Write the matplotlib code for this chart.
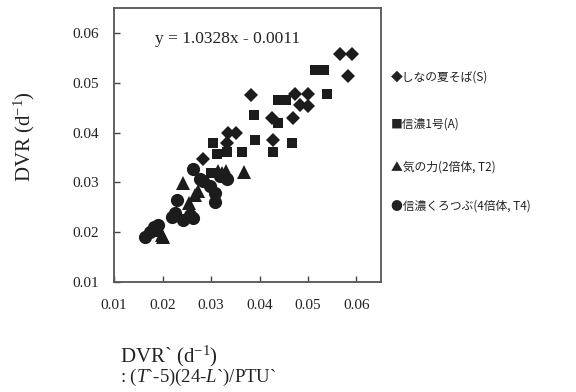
import matplotlib

matplotlib.use("Agg")
import matplotlib.pyplot as plt

plt.rcParams["font.family"] = "Liberation Serif"
plt.rcParams["mathtext.fontset"] = "custom"
plt.rcParams["mathtext.rm"] = "Liberation Serif"
plt.rcParams["mathtext.it"] = "Liberation Serif:italic"
plt.rcParams["mathtext.default"] = "regular"

# しなの夏そば(S)
s_x = [0.0566, 0.0591, 0.0582, 0.0382, 0.0473, 0.0500, 0.0484, 0.0500, 0.0426,
       0.0469, 0.0335, 0.0352, 0.0333, 0.0428, 0.0284]
s_y = [0.0558, 0.0558, 0.0513, 0.0475, 0.0477, 0.0477, 0.0455, 0.0453, 0.0429,
       0.0429, 0.0400, 0.0400, 0.0380, 0.0386, 0.0346]
# 信濃1号(A)
a_x = [0.0514, 0.0534, 0.0539, 0.0438, 0.0455, 0.0389, 0.0438, 0.0391, 0.0467,
       0.0304, 0.0312, 0.0333, 0.0364, 0.0428, 0.0300]
a_y = [0.0525, 0.0525, 0.0477, 0.0465, 0.0465, 0.0435, 0.0419, 0.0386, 0.0380,
       0.0380, 0.0356, 0.0360, 0.0360, 0.0360, 0.0318]
# 気の力(2倍体, T2)
t2_x = [0.0368, 0.0242, 0.0267, 0.0255, 0.0199, 0.0315, 0.0330, 0.0323, 0.0191,
        0.0201, 0.0273]
t2_y = [0.0320, 0.0298, 0.0275, 0.0259, 0.0195, 0.0322, 0.0322, 0.0318, 0.0205,
        0.0191, 0.0282]
# 信濃くろつぶ(4倍体, T4)
t4_x = [0.0263, 0.0284, 0.0298, 0.0308, 0.0308, 0.0230, 0.0226, 0.0242, 0.0263,
        0.0191, 0.0174, 0.0164, 0.0319, 0.0333, 0.0277, 0.0257, 0.0220, 0.0183]
t4_y = [0.0326, 0.0302, 0.0292, 0.0279, 0.0261, 0.0265, 0.0239, 0.0225, 0.0229,
        0.0215, 0.0201, 0.0191, 0.0312, 0.0306, 0.0306, 0.0235, 0.0231, 0.0210]

ticks = [0.01, 0.02, 0.03, 0.04, 0.05, 0.06]
legend_labels = ["◆しなの夏そば(S)", "■信濃1号(A)", "▲気の力(2倍体, T2)", "●信濃くろつぶ(4倍体, T4)"]

ink = "#1c1c1c"
fig = plt.figure(figsize=(5.76, 3.92), dpi=100)
ax = fig.add_axes([0.198, 0.2806, 0.463, 0.699])

ax.plot(t4_x, t4_y, "o", color=ink, markersize=9.5, markeredgewidth=0)
ax.plot(t2_x, t2_y, "^", color=ink, markersize=10, markeredgewidth=0)
ax.plot(a_x, a_y, "s", color=ink, markersize=7.5, markeredgewidth=0)
ax.plot(s_x, s_y, "D", color=ink, markersize=7, markeredgewidth=0)

ax.set_xlim(0.01, 0.065)
ax.set_ylim(0.01, 0.065)
ax.set_xticks(ticks)
ax.set_yticks(ticks)
ax.set_xticklabels([f"{t:.2f}" for t in ticks])
ax.set_yticklabels([f"{t:.2f}" for t in ticks])
ax.tick_params(direction="in", length=4, width=1, colors="#444444", labelcolor="#222222",
               labelsize=11)
ax.tick_params(axis="x", pad=12)
ax.tick_params(axis="y", pad=11)
for spine in ax.spines.values():
    spine.set_color("#555555")
    spine.set_linewidth(1.3)

ax.text(0.0185, 0.0587, "y = 1.0328x - 0.0011", fontsize=12.5, color="#222222",
        va="center", ha="left")

ax.set_ylabel("DVR (d$^{-1}$)", fontsize=15, color="#222222")
ax.yaxis.set_label_coords(-0.288, 0.53)

fig.text(120 / 576, 1 - 356 / 392, "DVR` (d$^{-1}$)", fontsize=15, color="#222222",
         va="center", ha="left")
fig.text(120 / 576, 1 - 377 / 392, r": ($\it{T}$`-5)(24-$\it{L}$`)/PTU`", fontsize=13.5,
         color="#222222", va="center", ha="left")

legend_y = [77, 124, 167, 206]
for label, py in zip(legend_labels, legend_y):
    fig.text(391 / 576, 1 - py / 392, label, fontsize=8.5, color="#222222",
             family=["Noto Sans CJK JP", "DejaVu Sans"], va="center", ha="left")

fig.savefig("out.png", dpi=100)
